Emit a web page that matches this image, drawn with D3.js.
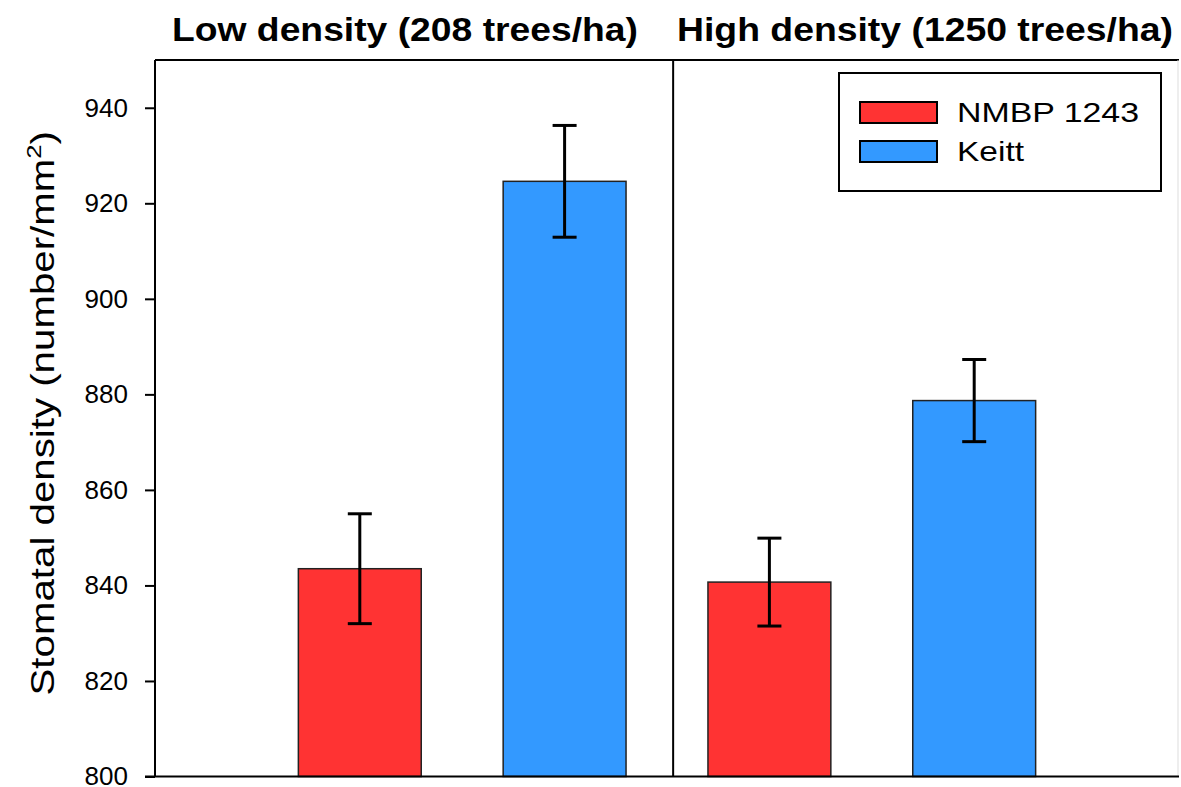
<!DOCTYPE html>
<html>
<head>
<meta charset="utf-8">
<script src="https://cdn.jsdelivr.net/npm/d3@7"></script>
<style>
  body { margin: 0; background: #fff; }
  text { font-family: "Liberation Sans", Arial, sans-serif; fill: #000; }
</style>
</head>
<body>
<svg id="chart"></svg>
<script>
const width = 1181;
const height = 787;

// data
const panels = ["Low density (208 trees/ha)", "High density (1250 trees/ha)"];
const cultivars = ["NMBP 1243", "Keitt"];
const colors = ["#ff3333", "#3399ff"];
const means = [[843.5, 924.6], [840.7, 878.7]];
const errors = [[11.5, 11.7], [9.2, 8.6]];
const yTicks = [800, 820, 840, 860, 880, 900, 920, 940];

const margin = {left: 155, right: 2, top: 60, bottom: 10};

const svg = d3.select("#chart")
    .attr("width", width)
    .attr("height", height);

// positions 1..4 along one continuous axis
const x = d3.scaleLinear().domain([0, 5]).range([margin.left, width - margin.right]);
const y = d3.scaleLinear().domain([800, 950]).range([height - margin.bottom - 0.5, margin.top]);

const barW = x(0.6) - x(0);

const bars = [];
panels.forEach((p, i) => {
    cultivars.forEach((c, j) => {
        bars.push({pos: 1 + i * 2 + j, mean: means[i][j], err: errors[i][j], color: colors[j]});
    });
});

// bars
svg.selectAll("rect.bar").data(bars).enter().append("rect")
    .attr("class", "bar")
    .attr("x", d => x(d.pos) - barW / 2)
    .attr("width", barW)
    .attr("y", d => y(d.mean))
    .attr("height", d => y(800) - y(d.mean))
    .style("fill", d => d.color)
    .style("stroke", "#222")
    .style("stroke-width", 1.5);

// error bars
const capW = 12;
const eb = svg.selectAll("g.err").data(bars).enter().append("g").attr("class", "err")
    .style("stroke", "#000").style("stroke-width", 3);
eb.append("line")
    .attr("x1", d => x(d.pos)).attr("x2", d => x(d.pos))
    .attr("y1", d => y(d.mean + d.err)).attr("y2", d => y(d.mean - d.err));
eb.append("line")
    .attr("x1", d => x(d.pos) - capW).attr("x2", d => x(d.pos) + capW)
    .attr("y1", d => y(d.mean + d.err)).attr("y2", d => y(d.mean + d.err));
eb.append("line")
    .attr("x1", d => x(d.pos) - capW).attr("x2", d => x(d.pos) + capW)
    .attr("y1", d => y(d.mean - d.err)).attr("y2", d => y(d.mean - d.err));

// frame
const yTop = y(950), yBottom = y(800);
const frame = svg.append("g").style("stroke", "#000").style("stroke-width", 2);
frame.append("line").attr("x1", x(0)).attr("x2", x(5)).attr("y1", yTop).attr("y2", yTop);
frame.append("line").attr("x1", x(5) - 1).attr("x2", x(5) - 1).attr("y1", yTop).attr("y2", yBottom)
    .style("stroke", "#ddd").style("stroke-width", 1);
// divider between the two panels
const divX = x(2.53);
frame.append("line").attr("x1", divX).attr("x2", divX).attr("y1", yTop).attr("y2", yBottom);

// y axis
const yAxis = svg.append("g")
    .attr("transform", `translate(${x(0)},0)`)
    .call(d3.axisLeft(y).tickValues(yTicks).tickSize(10).tickPadding(17).tickSizeOuter(0));
yAxis.select(".domain").style("stroke-width", 2).attr("d", `M0,${yTop}V${yBottom}`);
yAxis.selectAll(".tick line").style("stroke-width", 2);
yAxis.selectAll(".tick text").style("font-size", "26px").style("font-family", "Liberation Sans, Arial, sans-serif");

// bottom axis line
svg.append("line").attr("x1", x(0) - 10).attr("x2", x(5)).attr("y1", yBottom).attr("y2", yBottom)
    .style("stroke", "#000").style("stroke-width", 2);

// panel titles (the original font is a little wider than ours)
const titleX = [405, 925];
const titleW = [466, 496];
svg.selectAll("text.title").data(panels).enter().append("text")
    .attr("class", "title")
    .attr("x", (d, i) => titleX[i])
    .attr("y", 41)
    .attr("text-anchor", "middle")
    .attr("textLength", (d, i) => titleW[i])
    .attr("lengthAdjust", "spacingAndGlyphs")
    .style("font-size", "33px")
    .style("font-weight", "bold")
    .text(d => d);

// y label
const yl = svg.append("text")
    .attr("transform", `translate(54,${(yTop + yBottom) / 2 - 5}) rotate(-90) scale(1.22,1)`)
    .attr("text-anchor", "middle")
    .style("font-size", "33px");
yl.append("tspan").text("Stomatal density (number/mm");
yl.append("tspan").attr("dy", -13).style("font-size", "21px").text("2");
yl.append("tspan").attr("dy", 13).text(")");

// legend
const legendW = [182, 67];
const lg = svg.append("g").attr("transform", "translate(839,73)");
lg.append("rect").attr("width", 322).attr("height", 118)
    .style("fill", "#fff").style("stroke", "#000").style("stroke-width", 2);
const li = lg.selectAll("g.item").data(cultivars).enter().append("g")
    .attr("transform", (d, i) => `translate(21,${29 + i * 39})`);
li.append("rect").attr("width", 77).attr("height", 21)
    .style("fill", (d, i) => colors[i]).style("stroke", "#000").style("stroke-width", 2);
li.append("text").attr("x", 97).attr("y", 20)
    .attr("textLength", (d, i) => legendW[i])
    .attr("lengthAdjust", "spacingAndGlyphs")
    .style("font-size", "28px").text(d => d);
</script>
</body>
</html>
